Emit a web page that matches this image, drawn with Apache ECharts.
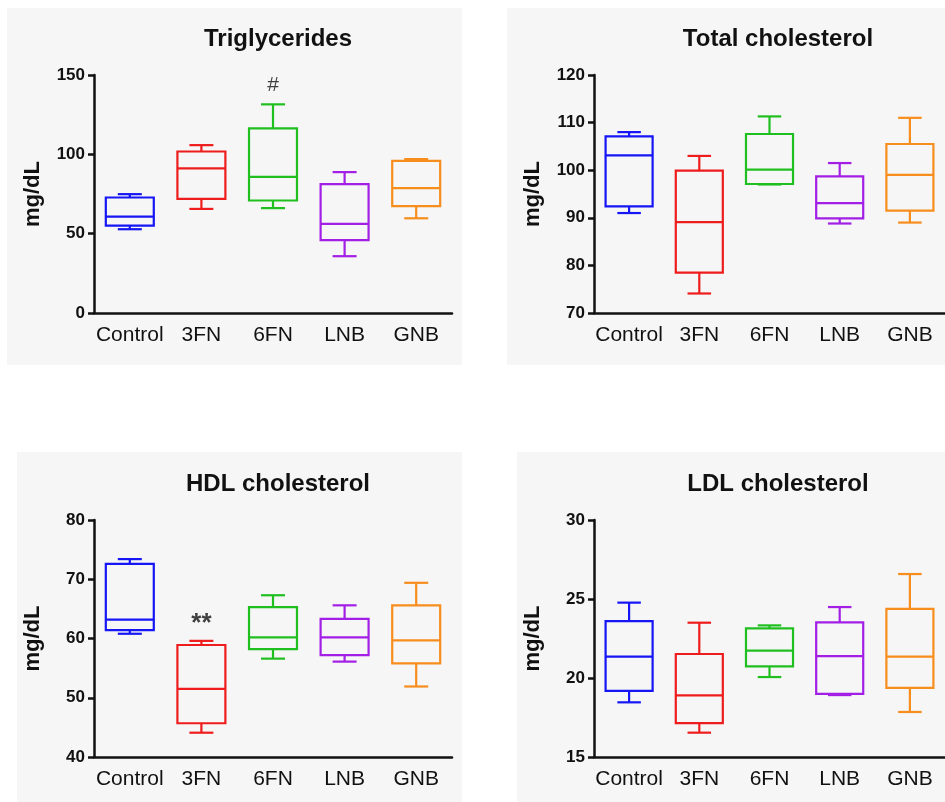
<!DOCTYPE html>
<html>
<head>
<meta charset="utf-8">
<script src="https://cdn.jsdelivr.net/npm/echarts@6/dist/echarts.min.js"></script>
<style>
html,body{margin:0;padding:0;background:#fff}
#main{width:945px;height:802px}
</style>
</head>
<body>
<div id="main"></div>
<script>
var groups = ['Control', '3FN', '6FN', 'LNB', 'GNB'];
var colors = ['#1515f5', '#ee1c1c', '#20bf20', '#a31fe6', '#f78d1c'];

// each row: [min, Q1, median, Q3, max]
var tgBox = [
    [52.8, 55.1, 60.8, 72.8, 74.9],
    [65.6, 71.9, 91.1, 101.8, 105.8],
    [66.1, 70.9, 85.8, 116.3, 131.5],
    [35.8, 45.9, 56.2, 81.2, 88.8],
    [59.7, 67.3, 78.7, 95.9, 97.0]
];
var tcBox = [
    [91.0, 92.4, 103.1, 107.1, 108.0],
    [74.1, 78.5, 89.1, 99.9, 103.0],
    [97.0, 97.1, 100.1, 107.6, 111.3],
    [88.8, 89.9, 93.1, 98.7, 101.5],
    [89.0, 91.5, 99.0, 105.5, 111.0]
];
var hdlBox = [
    [60.8, 61.4, 63.2, 72.6, 73.4],
    [44.1, 45.7, 51.5, 58.9, 59.6],
    [56.6, 58.2, 60.2, 65.3, 67.3],
    [56.1, 57.2, 60.2, 63.3, 65.6],
    [51.9, 55.8, 59.7, 65.6, 69.4]
];
var ldlBox = [
    [18.46, 19.18, 21.35, 23.6, 24.77],
    [16.54, 17.15, 18.9, 21.52, 23.5],
    [20.06, 20.74, 21.73, 23.14, 23.33],
    [18.92, 18.99, 21.39, 23.52, 24.49],
    [17.85, 19.37, 21.35, 24.37, 26.58]
];
// significance marks above the boxes
var tgMarks = ['', '', '#', '', ''];
var tcMarks = ['', '', '', '', ''];
var hdlMarks = ['', '**', '', '', ''];
var ldlMarks = ['', '', '', '', ''];

var titles = ['Triglycerides', 'Total cholesterol', 'HDL cholesterol', 'LDL cholesterol'];
var yMin = [0, 70, 40, 15];
var yMax = [150, 120, 80, 30];
var yStep = [50, 10, 10, 5];

var boxes = [tgBox, tcBox, hdlBox, ldlBox];
var marks = [tgMarks, tcMarks, hdlMarks, ldlMarks];

var font = 'Arial, "Liberation Sans", Helvetica, sans-serif';
var ink = '#111';
var pos = [
    {left: 94, top: 75, height: 238},
    {left: 594, top: 75, height: 238},
    {left: 94, top: 520, height: 237},
    {left: 594, top: 520, height: 237}
];

function renderBox(params, api) {
    var i = api.value(0);
    var lo = api.coord([i, api.value(1)]);
    var q1 = api.coord([i, api.value(2)]);
    var md = api.coord([i, api.value(3)]);
    var q3 = api.coord([i, api.value(4)]);
    var hi = api.coord([i, api.value(5)]);
    var bw = api.size([1, 0])[0] * 0.67;
    var cw = bw / 2;
    var cx = md[0];
    var st = {stroke: colors[i], lineWidth: 2.2, fill: 'none'};
    return {
        type: 'group',
        children: [
            {type: 'rect', shape: {x: cx - bw / 2, y: q3[1], width: bw, height: q1[1] - q3[1]}, style: st},
            {type: 'line', shape: {x1: cx - bw / 2, y1: md[1], x2: cx + bw / 2, y2: md[1]}, style: st},
            {type: 'line', shape: {x1: cx, y1: q3[1], x2: cx, y2: hi[1]}, style: st},
            {type: 'line', shape: {x1: cx - cw / 2, y1: hi[1], x2: cx + cw / 2, y2: hi[1]}, style: st},
            {type: 'line', shape: {x1: cx, y1: q1[1], x2: cx, y2: lo[1]}, style: st},
            {type: 'line', shape: {x1: cx - cw / 2, y1: lo[1], x2: cx + cw / 2, y2: lo[1]}, style: st}
        ]
    };
}

var grid = [], xAxis = [], yAxis = [], series = [], title = [];
pos.forEach(function (p, k) {
    grid.push({left: p.left, top: p.top, width: 358, height: p.height});
    title.push({
        text: titles[k],
        left: p.left + 179,
        top: p.top - 53,
        textAlign: 'center',
        textStyle: {fontFamily: font, fontSize: 24, fontWeight: 'bold', color: ink}
    });
    xAxis.push({
        type: 'category',
        gridIndex: k,
        data: groups,
        axisLine: {lineStyle: {color: ink, width: 2.5}},
        axisTick: {show: false},
        axisLabel: {color: ink, fontFamily: font, fontSize: 21, margin: 12, interval: 0}
    });
    yAxis.push({
        type: 'value',
        gridIndex: k,
        min: yMin[k],
        max: yMax[k],
        interval: yStep[k],
        name: 'mg/dL',
        nameLocation: 'middle',
        nameGap: 50,
        nameTextStyle: {fontFamily: font, fontSize: 22, fontWeight: 'bold', color: ink},
        axisLine: {show: true, lineStyle: {color: ink, width: 2.5}},
        axisTick: {show: true, length: 6, lineStyle: {color: ink, width: 2.5}},
        axisLabel: {color: ink, fontFamily: font, fontSize: 17, fontWeight: 'bold', margin: 9},
        splitLine: {show: false}
    });
    series.push({
        type: 'custom',
        xAxisIndex: k,
        yAxisIndex: k,
        renderItem: renderBox,
        encode: {x: 0, y: [1, 2, 3, 4, 5]},
        data: boxes[k].map(function (b, i) { return [i].concat(b); })
    });
    var mk = [];
    marks[k].forEach(function (m, i) {
        if (m) mk.push([i, boxes[k][i][4], m]);
    });
    series.push({
        type: 'scatter',
        xAxisIndex: k,
        yAxisIndex: k,
        symbolSize: 1,
        itemStyle: {color: 'rgba(0,0,0,0)'},
        label: {
            show: true,
            position: 'top',
            distance: k === 0 ? 8 : 4,
            formatter: function (d) { return d.value[2]; },
            fontFamily: font,
            fontSize: k === 0 ? 21 : 26,
            fontWeight: k === 0 ? 'normal' : 'bold',
            color: ink
        },
        data: mk
    });
});

var bg = '#f6f6f6';
var chart = echarts.init(document.getElementById('main'));
chart.setOption({
    backgroundColor: '#fff',
    animation: false,
    graphic: [
        {type: 'rect', z: -10, shape: {x: 7, y: 8, width: 455, height: 357}, style: {fill: bg}},
        {type: 'rect', z: -10, shape: {x: 507, y: 8, width: 438, height: 357}, style: {fill: bg}},
        {type: 'rect', z: -10, shape: {x: 17, y: 452, width: 445, height: 350}, style: {fill: bg}},
        {type: 'rect', z: -10, shape: {x: 517, y: 452, width: 428, height: 350}, style: {fill: bg}}
    ],
    title: title,
    grid: grid,
    xAxis: xAxis,
    yAxis: yAxis,
    series: series
});
</script>
</body>
</html>
